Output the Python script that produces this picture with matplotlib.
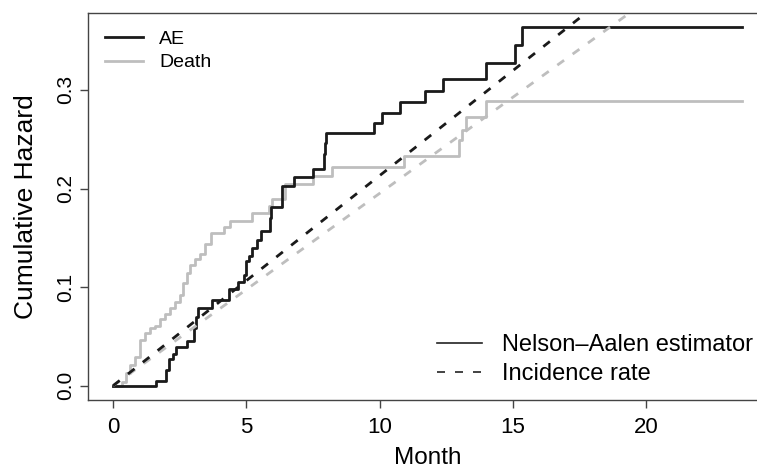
import matplotlib
matplotlib.use("Agg")
import matplotlib.pyplot as plt
from matplotlib.lines import Line2D

plt.rcParams["font.family"] = ["Liberation Sans", "DejaVu Sans"]

# Nelson-Aalen cumulative hazard (month, value)
ae_time = [0, 1.61, 2.0, 2.08, 2.25, 2.35, 2.76, 3.03, 3.12, 3.2, 3.7, 4.35, 4.7,
           4.9, 5.0, 5.1, 5.2, 5.4, 5.55, 5.88, 5.92, 6.35, 6.8, 7.5, 7.9, 7.95,
           8.0, 9.8, 10.1, 10.75, 11.7, 12.4, 14.0, 15.1, 15.35, 23.6]
ae_value = [0, 0.005, 0.016, 0.027, 0.032, 0.039, 0.045, 0.058, 0.07, 0.079, 0.087,
            0.098, 0.105, 0.112, 0.126, 0.132, 0.14, 0.148, 0.157, 0.17, 0.181,
            0.203, 0.212, 0.22, 0.235, 0.246, 0.256, 0.266, 0.277, 0.288, 0.299,
            0.311, 0.327, 0.346, 0.3635, 0.3635]

death_time = [0, 0.33, 0.5, 0.64, 0.82, 1.0, 1.2, 1.39, 1.57, 1.76, 1.95, 2.13,
              2.32, 2.5, 2.62, 2.76, 2.88, 3.07, 3.26, 3.45, 3.67, 4.15, 4.4, 5.22,
              5.85, 5.97, 6.45, 7.5, 8.2, 10.9, 13.0, 13.1, 13.25, 14.0, 23.6]
death_value = [0, 0.004, 0.013, 0.021, 0.029, 0.046, 0.053, 0.058, 0.061, 0.068,
               0.073, 0.079, 0.085, 0.092, 0.104, 0.114, 0.122, 0.129, 0.134, 0.144,
               0.155, 0.161, 0.167, 0.175, 0.182, 0.189, 0.205, 0.213, 0.222, 0.233,
               0.249, 0.259, 0.273, 0.289, 0.289]

# incidence rates (events per month)
ae_rate = 0.0213
death_rate = 0.0195
max_month = 23.6

black = "#1a1a1a"
grey = "#bebebe"

fig = plt.figure(figsize=(7.57, 4.69), dpi=100)
# the original is cropped on the right, so the box runs past the figure edge
ax = fig.add_axes([0.1162, 0.1471, 0.897, 0.8252])

ax.step(death_time, death_value, where="post", color=grey, lw=2)
ax.step(ae_time, ae_value, where="post", color=black, lw=2)

ax.plot([0, max_month], [0, death_rate * max_month], color=grey, lw=2,
        linestyle=(0, (3.0, 3.8)))
ax.plot([0, max_month], [0, ae_rate * max_month], color=black, lw=2,
        linestyle=(0, (3.0, 3.8)))

# R style 4% padding
ax.set_xlim(-0.04 * max_month, max_month * 1.04)
ymax = max(ae_value)
ax.set_ylim(-0.04 * ymax, ymax * 1.04)

ax.set_xticks([0, 5, 10, 15, 20])
ax.set_yticks([0.0, 0.1, 0.2, 0.3])
ax.set_yticklabels(["0.0", "0.1", "0.2", "0.3"])

for s in ax.spines.values():
    s.set_color("#444444")
    s.set_linewidth(1)
ax.tick_params(direction="out", length=5.5, width=1, color="#444444")
ax.tick_params(axis="x", labelsize=16, pad=7)
ax.tick_params(axis="y", labelsize=15, pad=4)
for lab in ax.get_yticklabels():
    lab.set_rotation(90)
    lab.set_va("center")

ax.set_xlabel("Month", fontsize=17.5, labelpad=6)
ax.set_ylabel("Cumulative Hazard", fontsize=19, labelpad=13)

# legend for the two outcomes
h1 = [Line2D([], [], color=black, lw=2), Line2D([], [], color=grey, lw=2)]
leg1 = ax.legend(h1, ["AE", "Death"], loc="upper left", bbox_to_anchor=(0.025, 0.955),
                 frameon=False, fontsize=14, handlelength=1.95, handletextpad=0.85,
                 labelspacing=0.3, borderpad=0, borderaxespad=0)
ax.add_artist(leg1)

# legend for the line types
h2 = [Line2D([], [], color="#222222", lw=1.2),
      Line2D([], [], color="#222222", lw=1.2, linestyle=(0, (4.8, 6.0)))]
ax.legend(h2, ["Nelson\u2013Aalen estimator", "Incidence rate"], loc="upper left",
          bbox_to_anchor=(0.514, 0.17), frameon=False, fontsize=17,
          handlelength=1.9, handletextpad=0.85, labelspacing=0.3,
          borderpad=0, borderaxespad=0)

fig.savefig("out.png", dpi=100)
